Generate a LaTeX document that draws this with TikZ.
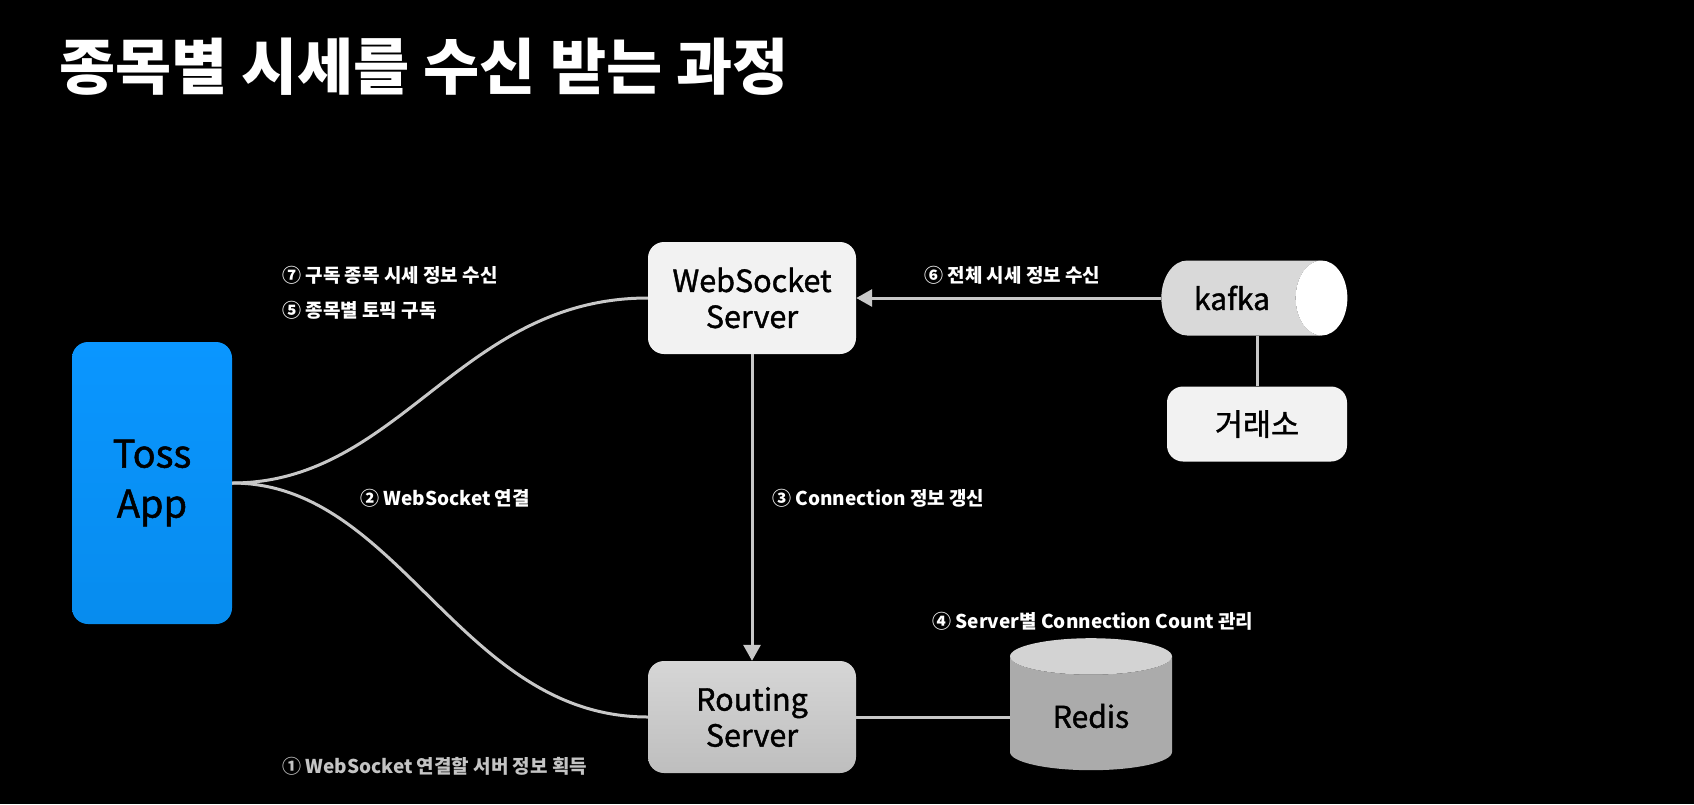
\documentclass[tikz,border=0pt]{standalone}
\usepackage{fontspec}
\setmainfont{Noto Sans CJK KR}
\newfontfamily\boxfont[FakeBold=1.3]{Noto Sans CJK KR}
\usetikzlibrary{arrows.meta,shapes.geometric}

\definecolor{tossblue}{HTML}{0A96FF}
\definecolor{tossblue2}{HTML}{078CEE}
\definecolor{boxlight}{HTML}{F2F2F2}
\definecolor{boxtop}{HTML}{D6D6D6}
\definecolor{boxbottom}{HTML}{BEBEBE}
\definecolor{linegray}{HTML}{C8C8C8}
\definecolor{kafkabody}{HTML}{D9D9D9}
\definecolor{redisbody}{HTML}{ABABAB}
\definecolor{redistop}{HTML}{D3D3D3}
\definecolor{dimtext}{HTML}{C4C4C4}

\tikzset{
  server/.style={draw=none, rounded corners=16pt, minimum width=208pt, minimum height=112pt,
    align=center, text=black, font=\boxfont\fontsize{30.5}{36}\selectfont},
  steplabel/.style={text=white, anchor=west, inner sep=0pt, font=\bfseries\fontsize{19}{22}\selectfont},
  link/.style={draw=linegray, line width=3pt},
  tip/.style={-{Triangle[length=16pt,width=17pt]}}
}

\begin{document}
\begin{tikzpicture}[x=1pt,y=-1pt]
\fill[black] (0,0) rectangle (1694,804);
\useasboundingbox (0,0) rectangle (1694,804);

\node[anchor=west, text=white, inner sep=0pt, font=\bfseries\fontsize{61}{64}\selectfont] (title) at (59,67) {종목별 시세를 수신 받는 과정};

\node[server, top color=tossblue, bottom color=tossblue2, minimum width=160pt, minimum height=282pt,
  font=\boxfont\fontsize{38}{50}\selectfont] (app) at (152,483) {Toss\\App};
\node[server, fill=boxlight] (ws) at (752,298) {WebSocket\\Server};
\node[server, top color=boxtop, bottom color=boxbottom] (router) at (752,717) {Routing\\Server};
\node[server, fill=boxlight, minimum width=180pt, minimum height=75pt] (exchange) at (1257,424) {거래소};

\node[cylinder, draw=none, cylinder uses custom fill, cylinder body fill=kafkabody, cylinder end fill=white,
  aspect=1.65, minimum height=186pt, minimum width=75pt, text=black, font=\boxfont\fontsize{30}{36}\selectfont] (kafka) at (1236,298) {kafka\hspace*{8pt}};
\node[cylinder, shape border rotate=90, draw=none, cylinder uses custom fill, cylinder body fill=redisbody, cylinder end fill=redistop,
  aspect=0.44, minimum height=132pt, minimum width=162pt, text=black, font=\boxfont\fontsize{30}{36}\selectfont] (redis) at (1091,716) {Redis};

\draw[link] (app.east) .. controls (400,483) and (460,298) .. (ws.west);
\draw[link] (app.east) .. controls (400,483) and (460,717) .. (router.west);
\draw[link, tip] (ws.south) -- (router.north);
\draw[link, tip] (kafka.west) -- (ws.east);
\draw[link] (exchange.north) -- (exchange.north |- kafka.south);
\draw[link] (router.east) -- (router.east -| redis.west);

\node[steplabel] (s7) at (282,275) {⑦ 구독 종목 시세 정보 수신};
\node[steplabel] (s5) at (282,310) {⑤ 종목별 토픽 구독};
\node[steplabel] (s2) at (360,498) {② WebSocket 연결};
\node[steplabel] (s3) at (772,498) {③ Connection 정보 갱신};
\node[steplabel] (s6) at (924,275) {⑥ 전체 시세 정보 수신};
\node[steplabel] (s4) at (932,621) {④ Server별 Connection Count 관리};
\node[steplabel, text=dimtext] (s1) at (282,766) {① WebSocket 연결할 서버 정보 획득};
\end{tikzpicture}
\end{document}
